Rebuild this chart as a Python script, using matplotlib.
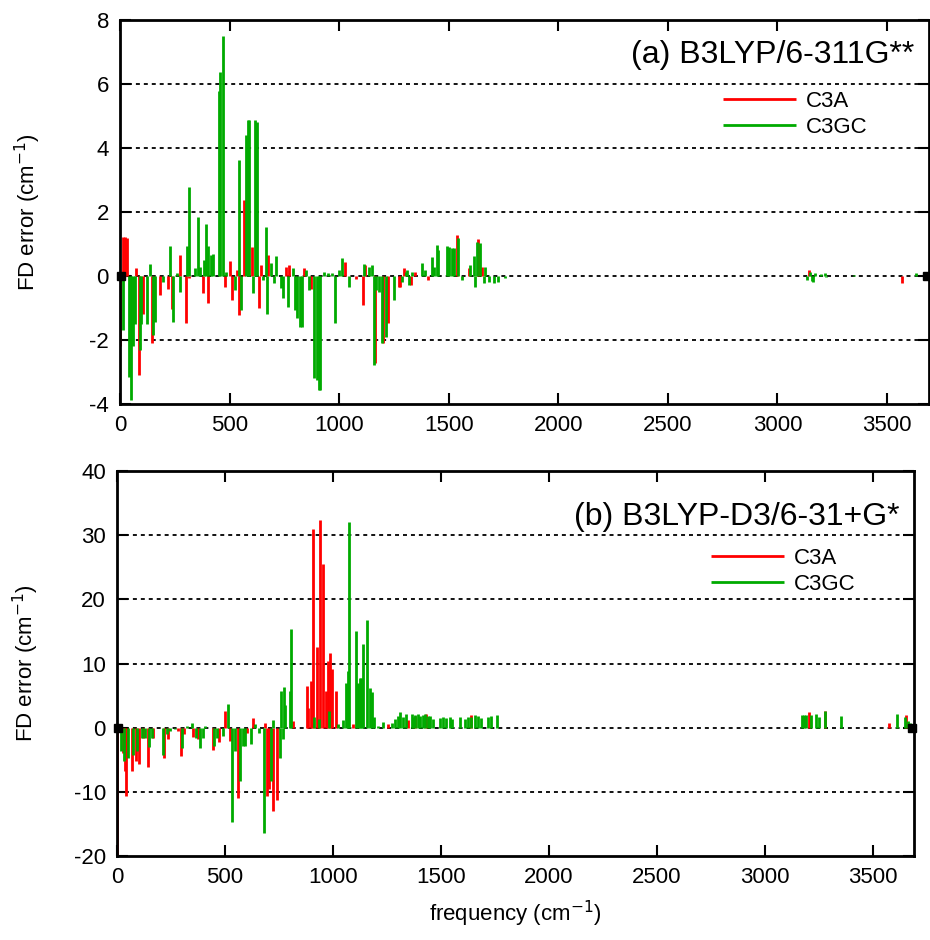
import matplotlib
matplotlib.use("Agg")
import matplotlib.pyplot as plt

plt.rcParams['font.family'] = ['Liberation Sans', 'DejaVu Sans']
plt.rcParams['axes.unicode_minus'] = False

# panel (a): B3LYP/6-311G**
a_c3a_x = [2, 15, 22, 30, 73, 85, 106, 144, 182, 220, 238, 276, 300, 314, 379, 402,
           477, 500, 511, 533, 542, 568, 603, 633, 644, 677, 758, 773, 838, 873,
           1027, 1076, 1109, 1118, 1162, 1202, 1224, 1273, 1280, 1295, 1326, 1348,
           1405, 1538, 1591, 1636, 1652, 3144, 3568]
a_c3a_y = [-2.2, 1.23, 1.23, 1.2, 0.24, -3.1, -1.2, -2.1, -0.6, -0.4, -1.04, 0.66,
           -1.48, -0.07, -0.52, -0.83, -0.35, 0.47, -0.75, 0.19, -1.22, 2.38, 0.92,
           -1.01, 0.34, 0.66, 0.29, 0.34, 0.24, -0.42, 0.45, -0.1, -0.9, 0.34, -2.73,
           -2.1, -1.48, -0.35, -0.33, 0.24, -0.28, 0.14, -0.12, 1.28, 0.24, 1.15,
           0.29, 0.19, -0.22]

a_c3gc_x = [15, 42, 52, 58, 68, 91, 98, 121, 136, 152, 159, 197, 227, 242, 258, 273,
            305, 315, 341, 356, 364, 385, 394, 402, 417, 424, 450, 455, 470, 485, 523,
            545, 550, 576, 583, 588, 606, 618, 624, 652, 667, 670, 689, 705, 712, 735,
            742, 765, 788, 798, 810, 820, 830, 848, 861, 886, 897, 906, 912, 932, 947,
            967, 982, 1000, 1015, 1045, 1114, 1136, 1148, 1159, 1167, 1182, 1194, 1212,
            1250, 1288, 1303, 1311, 1318, 1333, 1379, 1394, 1424, 1432, 1447, 1452,
            1492, 1500, 1515, 1523, 1542, 1561, 1598, 1614, 1621, 1629, 1644, 1659,
            1667, 1682, 1705, 1727, 1758, 3136, 3148, 3159, 3164, 3174, 3197, 3217,
            3224, 3348, 3633]
a_c3gc_y = [-1.69, -3.15, -3.875, -2.2, -1.5, -2.3, -1.5, -1.5, 0.36, -1.85, -1.43,
            -0.18, 0.95, -1.43, 0.08, -0.5, 0.94, 2.77, 0.24, 1.83, 0.29, 0.5, 1.63,
            0.95, 0.66, 0.7, 5.79, 6.39, 7.5, 0.14, -0.44, 3.63, -1.06, 4.41, 4.88,
            4.88, -0.54, 4.88, 4.82, -0.13, 1.54, -1.2, 0.4, -0.23, 0.63, -0.39, -0.7,
            -0.96, 0.24, -1.06, -1.3, -1.6, -1.6, 0.19, -0.44, -3.2, -3.25, -3.56,
            -3.56, 0.14, 0.08, 0.08, -1.48, 0.19, 0.55, -0.33, 0.36, 0.29, 0.34, -2.78,
            -0.44, -0.49, -2.1, -1.9, -0.75, -0.18, 0.14, 0.19, -0.28, 0.14, 0.4, 0.19,
            0.6, 0.29, 0.97, 0.8, 0.94, 0.92, 0.86, 0.86, 1.18, -0.13, 0.34, 0.63,
            -0.33, 1.07, 1.02, -0.23, 0.29, -0.18, -0.23, -0.18, -0.07, -0.12, 0.14,
            -0.15, -0.18, 0.08, 0.05, 0.08, -0.04, 0.03, 0.08]

# panel (b): B3LYP-D3/6-31+G*
b_c3a_x = [0, 26, 37, 41, 68, 88, 104, 122, 145, 165, 220, 238, 284, 295, 310, 350,
           377, 446, 474, 500, 523, 562, 601, 628, 685, 693, 706, 724, 739, 817, 878,
           886, 898, 909, 928, 941, 952, 970, 979, 987, 994, 1014, 1092, 1257, 1349,
           1380, 1431, 1642, 3204, 3278, 3574, 3653]
b_c3a_y = [-22, -3.9, -6.8, -10.7, -6.8, -5.2, -5.7, -1.6, -6.1, -1.6, -4.8, -1.7,
           -0.5, -4.4, -1.0, -1.5, -1.8, -3.5, -2.3, 2.6, -2.1, -10.9, -0.8, 1.46,
           0.8, -10.7, -9.6, -13.0, -11.2, 1.0, 6.5, 3.1, 7.3, 31.0, 12.6, 32.4,
           25.5, 5.7, 10.4, 11.7, 9.1, 5.7, 0.5, 0.5, 1.15, 1.77, 2.2, 2.0, 2.5,
           2.6, 0.7, 2.0]

b_c3gc_x = [19, 32, 53, 76, 91, 114, 130, 149, 161, 215, 230, 245, 269, 299, 323, 346,
            368, 385, 397, 407, 451, 464, 493, 515, 535, 547, 569, 582, 593, 623, 639,
            659, 681, 712, 724, 754, 760, 767, 773, 778, 801, 808, 912, 936, 980, 1024,
            1048, 1060, 1068, 1075, 1107, 1117, 1125, 1132, 1140, 1156, 1171, 1183,
            1190, 1210, 1233, 1272, 1287, 1302, 1311, 1326, 1341, 1365, 1372, 1380,
            1395, 1403, 1418, 1426, 1442, 1449, 1464, 1496, 1511, 1526, 1542, 1554,
            1588, 1611, 1626, 1642, 1658, 1673, 1688, 1719, 1734, 1758, 3173, 3182,
            3194, 3213, 3236, 3252, 3280, 3352, 3613, 3648, 3664, 3674]
b_c3gc_y = [-3.6, -5.2, -4.7, -4.2, -3.6, -1.6, -1.6, -3.0, -1.6, -4.2, -1.0, -0.5,
            -0.26, -3.1, 0.26, 0.8, -1.6, -3.1, -1.6, 0.26, -2.9, -1.6, -1.3, 3.65,
            -14.7, -3.6, -8.3, -2.9, -2.9, -2.6, 0.5, -0.8, -16.4, -8.3, 1.2, -4.7,
            5.7, -1.8, 6.4, 3.6, 5.7, 15.4, 1.6, 1.3, 2.6, 0.5, 1.15, 6.9, 8.9, 32.1,
            15.1, 6.9, 7.8, 7.8, 13.0, 16.8, 6.25, 5.6, 1.7, 0.26, 0.9, 0.8, 1.3, 1.8,
            2.5, 1.6, 2.1, 2.1, 1.6, 2.0, 2.1, 1.8, 2.0, 2.2, 1.8, 1.8, 1.3, 1.5, 1.7,
            1.5, 1.7, 1.4, 1.6, 1.4, 1.6, 1.7, 1.9, 1.8, 1.5, 1.6, 1.8, 1.9, 2.0, 2.0,
            2.0, 1.9, 2.1, 1.7, 2.6, 1.8, 2.2, 1.7, 1.1, 0.8]

# black reference marks at both ends of the range
ref_x = [6, 3684]
ref_y = [0, 0]

panels = [
    ("(a) B3LYP/6-311G**", a_c3a_x, a_c3a_y, a_c3gc_x, a_c3gc_y,
     [8, 6, 4, 2, 0, -2, -4], (-4, 8), 0.91, 0.815),
    ("(b) B3LYP-D3/6-31+G*", b_c3a_x, b_c3a_y, b_c3gc_x, b_c3gc_y,
     [40, 30, 20, 10, 0, -10, -20], (-20, 40), 0.88, 0.80),
]

RED = "#ff0000"
GREEN = "#00aa00"

fig = plt.figure(figsize=(9.3, 9.4), dpi=100)
ax_top = fig.add_axes([120 / 930, 1 - 404 / 940, 809 / 930, 384 / 940])
ax_bot = fig.add_axes([117 / 930, 1 - 856 / 940, 797 / 930, 385 / 940])

for ax, (title, rx, ry, gx, gy, yt, ylim, ty, ly) in zip([ax_top, ax_bot], panels):
    for y in yt[1:-1]:
        ax.axhline(y, color="black", lw=1.3, ls=(0, (2.2, 2.2)), zorder=1)
    ax.vlines(rx, 0, ry, color=RED, lw=2.0, label="C3A", zorder=2)
    ax.vlines(gx, 0, gy, color=GREEN, lw=2.0, label="C3GC", zorder=3)
    ax.plot(ref_x, ref_y, "s", color="black", ms=6, zorder=4, clip_on=False)

    ax.set_xlim(0, 3692)
    ax.set_ylim(*ylim)
    ax.set_yticks(yt)
    ax.set_xticks(range(0, 4000, 500))
    ax.tick_params(direction="in", length=8, width=1.5, top=True, right=True,
                   labelsize=16, pad=8)
    for s in ax.spines.values():
        s.set_linewidth(2)
    ax.set_ylabel("FD error (cm$^{-1}$)", fontsize=16)
    ax.yaxis.set_label_coords(-0.095, 0.5)

    ax.text(0.982, ty, title, transform=ax.transAxes, ha="right", va="center",
            fontsize=23)
    ax.legend(loc="upper left", bbox_to_anchor=(0.745, ly), frameon=False,
              fontsize=16, handlelength=3.3, handletextpad=0.45, labelspacing=0.22,
              borderpad=0, borderaxespad=0)

ax_bot.set_xlabel("frequency (cm$^{-1}$)", fontsize=16, labelpad=8)

fig.savefig("out.png", dpi=100)
